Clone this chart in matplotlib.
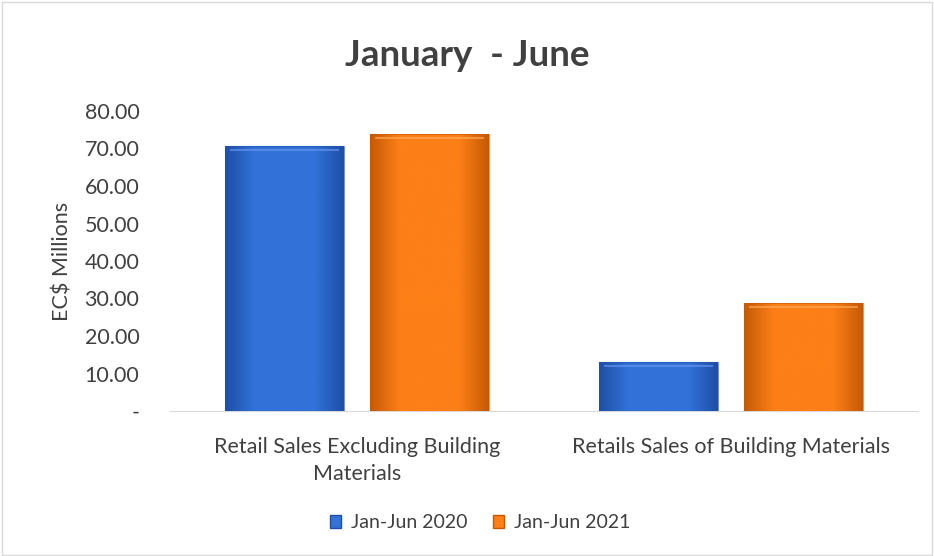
import numpy as np
import matplotlib.pyplot as plt
from matplotlib.colors import LinearSegmentedColormap
from matplotlib.patches import Rectangle

plt.rcParams['font.family'] = ['Lato', 'DejaVu Sans']

categories = ['Retail Sales Excluding Building\nMaterials', 'Retails Sales of Building Materials']
series_names = ['Jan-Jun 2020', 'Jan-Jun 2021']
values_2020 = [70.7, 13.1]
values_2021 = [73.9, 28.9]
yticks = [0, 10, 20, 30, 40, 50, 60, 70, 80]
ytick_labels = ['-', '10.00', '20.00', '30.00', '40.00', '50.00', '60.00', '70.00', '80.00']

colors = ['#3272d9', '#fd7f17']
dark = ['#1f4fa6', '#c45a06']
light = ['#6d9cf0', '#ffb060']
txt = '#404040'

fig = plt.figure(figsize=(9.34, 5.56), dpi=100)
fig.patches.append(Rectangle((0.002, 0.002), 0.996, 0.994, transform=fig.transFigure,
                             fill=False, edgecolor='#d9d9d9', linewidth=1))
ax = fig.add_axes([170 / 934, 1 - 411 / 556, 748 / 934, 300 / 556])

x = np.arange(len(categories))
w = 0.318
gap = 0.07
off = (w + gap) / 2

def gradient_bars(xs, vals, i):
    bars = ax.bar(xs, vals, w, color=colors[i], label=series_names[i], zorder=2)
    cmap = LinearSegmentedColormap.from_list('g%d' % i, [dark[i], colors[i], colors[i], colors[i], dark[i]])
    grad = np.linspace(0, 1, 256).reshape(1, -1)
    for b in bars:
        x0, y0 = b.get_x(), b.get_y()
        bw, bh = b.get_width(), b.get_height()
        im = ax.imshow(grad, extent=[x0, x0 + bw, y0, y0 + bh], aspect='auto',
                       cmap=cmap, zorder=3, interpolation='bicubic')
        im.set_clip_path(b)
        # highlight near top
        ax.add_patch(Rectangle((x0 + bw * 0.04, y0 + bh - 1.4), bw * 0.92, 0.6,
                               color=light[i], alpha=0.6, lw=0, zorder=4))
        ax.add_patch(Rectangle((x0, y0), bw, bh, fill=False, edgecolor=dark[i],
                               lw=0.8, alpha=0.6, zorder=5))
    return bars

gradient_bars(x - off, values_2020, 0)
gradient_bars(x + off, values_2021, 1)

ax.set_xlim(-0.5, 1.5)
ax.set_ylim(0, 80)
ax.set_yticks(yticks)
ax.set_yticklabels(ytick_labels, fontsize=15.5, color=txt)
ax.set_xticks(x)
ax.set_xticklabels(categories, fontsize=15.5, color=txt, linespacing=1.4)
ax.tick_params(axis='y', length=0, pad=22)
ax.tick_params(axis='x', length=0, pad=19)
for s in ['top', 'right', 'left']:
    ax.spines[s].set_visible(False)
ax.spines['bottom'].set_color('#d9d9d9')
ax.set_ylabel('EC$ Millions', fontsize=15.5, color=txt, labelpad=9)

fig.text(0.5, 1 - 55 / 556, 'January  - June', ha='center', va='center',
         fontsize=26.5, fontweight='bold', color=txt)

handles = [Rectangle((0, 0), 1, 1, facecolor=colors[i], edgecolor=dark[i]) for i in range(2)]
fig.legend(handles, series_names, loc='center', bbox_to_anchor=(480 / 934, 1 - 523 / 556),
           ncol=2, frameon=False, fontsize=14, handlelength=0.6, handleheight=0.6,
           handletextpad=0.5, columnspacing=1.3, labelcolor=txt)

fig.savefig('out.png', dpi=100)
